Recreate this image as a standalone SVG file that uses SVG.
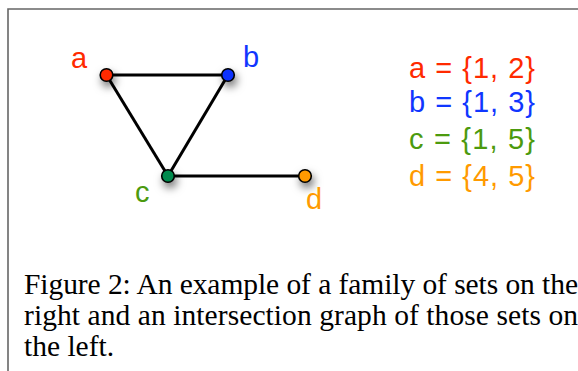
<svg xmlns="http://www.w3.org/2000/svg" width="578" height="371" viewBox="0 0 578 371">
<style>
.lbl{font-family:"Liberation Sans",Arial,sans-serif;font-size:29px}
.cap{font-family:"Liberation Serif","Times New Roman",serif;font-size:29.5px;fill:#000}
.node{stroke:#000;stroke-width:1.6}
.edge{stroke:#000;stroke-width:3;fill:none}
</style>
<defs>
<filter id="sh" x="-200%" y="-200%" width="500%" height="500%">
<feDropShadow dx="2" dy="5" stdDeviation="4" flood-color="#000" flood-opacity="0.55"/>
</filter>
</defs>
<rect width="578" height="371" fill="#fff"/>
<path d="M8 380 V9 H590" fill="none" stroke="#666" stroke-width="1.6"/>
<g id="connectors">
<line class="edge" x1="106.5" y1="75" x2="228" y2="75"/>
<line class="edge" x1="106.5" y1="75" x2="168" y2="176"/>
<line class="edge" x1="228" y1="75" x2="168" y2="176"/>
<line class="edge" x1="168" y1="176" x2="305" y2="176"/>
</g>
<g id="node-a">
<circle class="node" cx="106.5" cy="75" r="6.3" fill="#ff2a00" filter="url(#sh)"/>
<text class="lbl" x="71" y="68" fill="#ff2a00">a</text>
</g>
<g id="node-b">
<circle class="node" cx="228" cy="75" r="6.3" fill="#0a32ff" filter="url(#sh)"/>
<text class="lbl" x="243" y="67" fill="#1036ff">b</text>
</g>
<g id="node-c">
<circle class="node" cx="168" cy="176" r="6.3" fill="#008a4e" filter="url(#sh)"/>
<text class="lbl" x="135" y="202" fill="#4c9a0e">c</text>
</g>
<g id="node-d">
<circle class="node" cx="305" cy="176" r="6.3" fill="#ff9a00" filter="url(#sh)"/>
<text class="lbl" x="306" y="209" fill="#ff9a00">d</text>
</g>
<g id="sets">
<text class="lbl" x="409" y="78" fill="#ff2a00" textLength="126" lengthAdjust="spacing">a = {1, 2}</text>
<text class="lbl" x="409" y="112" fill="#1036ff" textLength="126" lengthAdjust="spacing">b = {1, 3}</text>
<text class="lbl" x="409" y="149" fill="#4c9a0e" textLength="126" lengthAdjust="spacing">c = {1, 5}</text>
<text class="lbl" x="409" y="186" fill="#ff9a00" textLength="126" lengthAdjust="spacing">d = {4, 5}</text>
</g>
<g id="caption">
<text class="cap" x="24" y="294" textLength="554" lengthAdjust="spacing">Figure 2: An example of a family of sets on the</text>
<text class="cap" x="24" y="325" textLength="554" lengthAdjust="spacing">right and an intersection graph of those sets on</text>
<text class="cap" x="24" y="356">the left.</text>
</g>
</svg>
